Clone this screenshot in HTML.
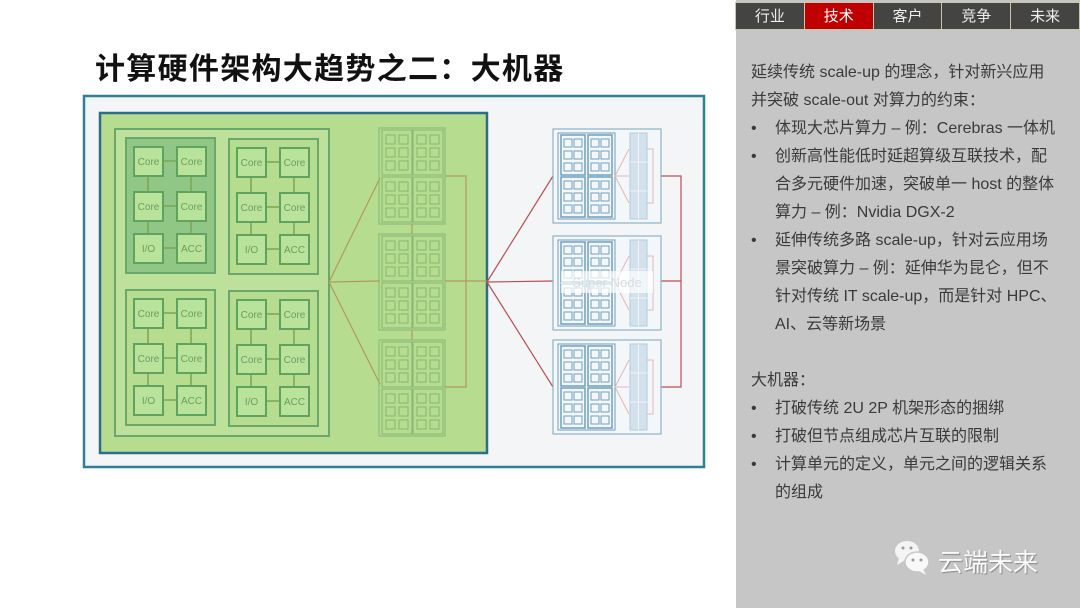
<!DOCTYPE html>
<html><head><meta charset="utf-8"><style>
html,body{margin:0;padding:0;width:1080px;height:608px;overflow:hidden;background:#fff;font-family:"Liberation Sans","Noto Sans CJK SC",sans-serif}
#title{position:absolute;left:95px;top:44px;font-size:30px;font-weight:bold;color:#111;letter-spacing:1.3px;font-family:"Liberation Sans","Noto Sans CJK SC",sans-serif;white-space:nowrap}
#panel{position:absolute;left:736px;top:0;width:344px;height:608px;background:#c6c6c6}
#tabs{position:absolute;left:736px;top:2px;width:344px;height:28px;display:flex}
#tabs div{flex:1;background:#444442;color:#eee;font-size:15px;text-align:center;line-height:27px;border:1px solid #c9c7a6;margin-left:-1px}
#tabs div.on{background:#c00000;color:#fff}
#txt{position:absolute;left:751px;top:59px;width:330px;font-size:16px;line-height:28px;color:#3a3a3a;white-space:nowrap}
#txt .b{padding-left:24px;position:relative}
#txt .b:before{content:"•";position:absolute;left:0;top:0}
#logo{position:absolute;left:938px;top:543px;font-size:25px;color:#fafafa;text-shadow:1px 1px 1px #888}
</style></head><body>
<div id="title">计算硬件架构大趋势之二：大机器</div>
<svg width="1080" height="608" style="position:absolute;left:0;top:0">
<defs>
<g id="mod">
 <g stroke="#7aa64e" stroke-width="1.5">
  <line x1="37" y1="23" x2="51" y2="23"/><line x1="37" y1="68" x2="51" y2="68"/><line x1="37" y1="110" x2="51" y2="110"/>
  <line x1="22" y1="38" x2="22" y2="54"/><line x1="65" y1="38" x2="65" y2="54"/>
  <line x1="22" y1="83" x2="22" y2="96"/><line x1="65" y1="83" x2="65" y2="96"/>
 </g>
 <g fill="#b9e29a" stroke="#5fa35f" stroke-width="2">
  <rect x="8" y="9" width="29" height="29"/><rect x="51" y="9" width="29" height="29"/>
  <rect x="8" y="54" width="29" height="29"/><rect x="51" y="54" width="29" height="29"/>
  <rect x="8" y="96" width="29" height="29"/><rect x="51" y="96" width="29" height="29"/>
 </g>
</g>
<g id="unit" fill="none" stroke="#87b677" stroke-width="1">
 <rect x="0" y="0" width="30" height="45"/>
 <rect x="4" y="5" width="9" height="9"/><rect x="17" y="5" width="9" height="9"/>
 <rect x="4" y="18" width="9" height="9"/><rect x="17" y="18" width="9" height="9"/>
 <rect x="4" y="31" width="9" height="9"/><rect x="17" y="31" width="9" height="9"/>
</g>
<g id="blk">
 <rect x="0" y="0" width="66" height="96" fill="none" stroke="#87b677"/>
 <use href="#unit" x="3" y="2"/><use href="#unit" x="34" y="2"/>
 <use href="#unit" x="3" y="49"/><use href="#unit" x="34" y="49"/>
</g>
<g id="bunit" fill="none" stroke="#6e9fbf" stroke-width="1">
 <rect x="0" y="0" width="24" height="40" stroke-width="1.5"/>
 <rect x="3" y="4" width="8" height="8"/><rect x="13" y="4" width="8" height="8"/>
 <rect x="3" y="16" width="8" height="8"/><rect x="13" y="16" width="8" height="8"/>
 <rect x="3" y="28" width="8" height="8"/><rect x="13" y="28" width="8" height="8"/>
</g>
<g id="sn">
 <rect x="0" y="0" width="108" height="94" fill="#f4f7f9" stroke="#8db3c8" stroke-width="1.2"/>
 <rect x="5" y="4" width="57" height="86" fill="none" stroke="#6e9fbf"/>
 <use href="#bunit" x="8" y="6"/><use href="#bunit" x="35" y="6"/>
 <use href="#bunit" x="8" y="48"/><use href="#bunit" x="35" y="48"/>
 <g stroke="#e3b6b6" fill="none"><line x1="62" y1="47" x2="76" y2="20"/><line x1="62" y1="47" x2="76" y2="47"/><line x1="62" y1="47" x2="76" y2="74"/><polyline points="94,20 100,20 100,74 94,74"/></g>
 <rect x="77" y="4" width="17" height="86" fill="#d3e1ec" stroke="#b3cadb"/>
 <g stroke="#eef3f7" stroke-width="1"><line x1="77" y1="33" x2="94" y2="33"/><line x1="77" y1="62" x2="94" y2="62"/><line x1="85.5" y1="4" x2="85.5" y2="90"/></g>
</g>
</defs>
<rect x="84" y="96" width="620" height="371" fill="#f4f5f6" stroke="#2f7f9a" stroke-width="2.5"/>
<rect x="100" y="113" width="387" height="340" fill="#b6dc8f" stroke="#2a6e8a" stroke-width="2.5"/>
<rect x="115" y="129" width="214" height="307" fill="#bde09a" stroke="#6aa76a" stroke-width="2"/>
<rect x="126" y="138" width="89" height="135" fill="#90c786" stroke="#6aa76a" stroke-width="2"/>
<rect x="229" y="139" width="89" height="135" fill="#b6dc8f" stroke="#6aa76a" stroke-width="2"/>
<rect x="126" y="290" width="89" height="135" fill="#b6dc8f" stroke="#6aa76a" stroke-width="2"/>
<rect x="229" y="291" width="89" height="135" fill="#b6dc8f" stroke="#6aa76a" stroke-width="2"/>
<use href="#mod" x="126" y="138"/><use href="#mod" x="229" y="139"/>
<use href="#mod" x="126" y="290"/><use href="#mod" x="229" y="291"/>
<g font-size="10" fill="#6aa05f" text-anchor="middle" font-family="Liberation Sans,sans-serif">
<text x="148.5" y="165">Core</text><text x="191.5" y="165">Core</text><text x="148.5" y="210">Core</text><text x="191.5" y="210">Core</text><text x="148.5" y="252">I/O</text><text x="191.5" y="252">ACC</text>
<text x="251.5" y="166">Core</text><text x="294.5" y="166">Core</text><text x="251.5" y="211">Core</text><text x="294.5" y="211">Core</text><text x="251.5" y="253">I/O</text><text x="294.5" y="253">ACC</text>
<text x="148.5" y="317">Core</text><text x="191.5" y="317">Core</text><text x="148.5" y="362">Core</text><text x="191.5" y="362">Core</text><text x="148.5" y="404">I/O</text><text x="191.5" y="404">ACC</text>
<text x="251.5" y="318">Core</text><text x="294.5" y="318">Core</text><text x="251.5" y="363">Core</text><text x="294.5" y="363">Core</text><text x="251.5" y="405">I/O</text><text x="294.5" y="405">ACC</text>
</g>
<g stroke="#b39a5a" stroke-width="1.2" fill="none">
<line x1="329" y1="282" x2="380" y2="178"/><line x1="329" y1="282" x2="380" y2="281"/><line x1="329" y1="282" x2="380" y2="384"/>
<polyline points="445,176 466,176 466,387 445,387"/><line x1="445" y1="281" x2="487" y2="281"/>
<line x1="412" y1="224" x2="412" y2="234"/><line x1="412" y1="330" x2="412" y2="340"/>
</g>
<use href="#blk" x="379" y="128"/><use href="#blk" x="379" y="234"/><use href="#blk" x="379" y="340"/>
<g stroke="#b94e55" stroke-width="1.2" fill="none">
<line x1="487" y1="282" x2="553" y2="176"/><line x1="487" y1="282" x2="553" y2="281"/><line x1="487" y1="282" x2="553" y2="387"/>
<polyline points="661,176 681,176 681,387 661,387"/><line x1="661" y1="281" x2="681" y2="281"/>
</g>
<use href="#sn" x="553" y="129"/><use href="#sn" x="553" y="236"/><use href="#sn" x="553" y="340"/>
<rect x="561" y="271" width="92" height="22" fill="#fff" opacity="0.7"/>
<text x="607" y="287" font-size="13" fill="#d6dde2" text-anchor="middle" font-family="Liberation Sans,sans-serif">Super Node</text>
</svg>
<div id="panel"></div>
<div id="tabs"><div>行业</div><div class="on">技术</div><div>客户</div><div>竞争</div><div>未来</div></div>
<div id="txt">
<div>延续传统 scale-up 的理念，针对新兴应用<br>并突破 scale-out 对算力的约束：</div>
<div class="b">体现大芯片算力 – 例：Cerebras 一体机</div>
<div class="b">创新高性能低时延超算级互联技术，配<br>合多元硬件加速，突破单一 host 的整体<br>算力 – 例：Nvidia DGX-2</div>
<div class="b">延伸传统多路 scale-up，针对云应用场<br>景突破算力 – 例：延伸华为昆仑，但不<br>针对传统 IT scale-up，而是针对 HPC、<br>AI、云等新场景</div>
<div style="height:28px"></div>
<div>大机器：</div>
<div class="b">打破传统 2U 2P 机架形态的捆绑</div>
<div class="b">打破但节点组成芯片互联的限制</div>
<div class="b">计算单元的定义，单元之间的逻辑关系<br>的组成</div>
</div>
<svg width="40" height="40" style="position:absolute;left:893px;top:538px">
<ellipse cx="14" cy="13" rx="12" ry="10" fill="#f4f4f4"/>
<path d="M6 20 L4 27 L12 22Z" fill="#f4f4f4"/>
<ellipse cx="24" cy="24" rx="12" ry="10" fill="#f8f8f8" stroke="#c6c6c6" stroke-width="1.5"/>
<path d="M30 31 L33 37 L26 33Z" fill="#f8f8f8"/>
<circle cx="10" cy="10" r="1.5" fill="#999"/><circle cx="18" cy="10" r="1.5" fill="#999"/>
<circle cx="20" cy="22" r="1.5" fill="#999"/><circle cx="28" cy="22" r="1.5" fill="#999"/>
</svg>
<div id="logo">云端未来</div>
</body></html>
